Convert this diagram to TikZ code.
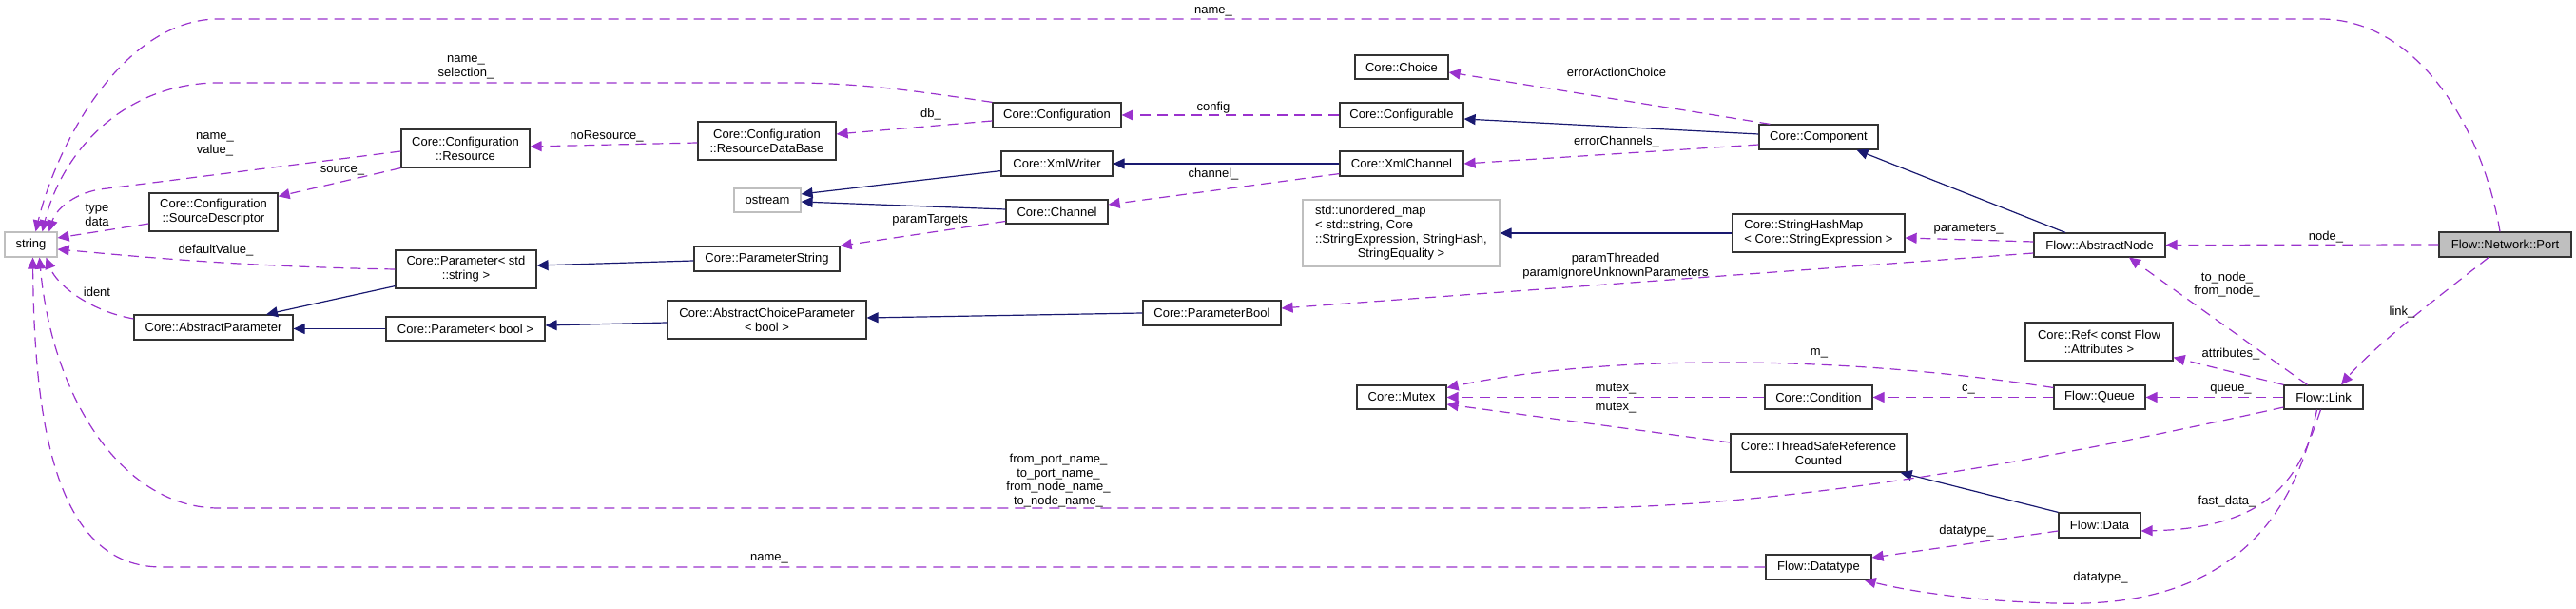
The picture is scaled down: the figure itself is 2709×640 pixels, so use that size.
\documentclass[tikz,border=0pt]{standalone}
\usepackage{fontspec}
\newfontfamily\dfontfam{Liberation Sans}
\newcommand{\dfnt}{\dfontfam\fontsize{6.5pt}{7.4pt}\selectfont}
\usetikzlibrary{arrows.meta,calc}
\definecolor{purp}{HTML}{9A32CD}
\definecolor{navyb}{HTML}{191970}
\definecolor{graybd}{HTML}{BFBFBF}
\tikzset{
  cls/.style={draw=black!80, line width=0.6pt, fill=white, inner sep=0pt, align=center, font=\dfnt},
  ext/.style={cls, draw=graybd},
  bx/.style 2 args={minimum width=#1*0.5pt, minimum height=#2*0.5pt},
  inhedge/.style={draw=navyb, line width=0.6pt, -{Triangle[length=6pt,width=5.5pt]}},
  usedge/.style={draw=purp, line width=0.6pt, dash pattern=on 5.5pt off 3.5pt, -{Triangle[length=6pt,width=5.5pt]}},
  elab/.style={inner sep=0pt, align=center, font=\dfnt},
}
\begin{document}
\begin{tikzpicture}[x=0.5pt, y=-0.5pt]
\useasboundingbox (0,0) rectangle (2709,640);
% nodes
\node[ext, bx={55}{26}] (string) at (32.5,257) {string};
\node[cls, bx={135}{40}] (cres) at (489.5,156) {Core::Configuration\\::Resource};
\node[cls, bx={135}{40}] (csd) at (224.5,223) {Core::Configuration\\::SourceDescriptor};
\node[cls, bx={148}{40}] (pstd) at (490,283) {Core::Parameter< std\\::string >};
\node[cls, bx={167}{26}] (aparam) at (224.5,344) {Core::AbstractParameter};
\node[cls, bx={167}{25}] (pbool) at (489.5,345.5) {Core::Parameter< bool >};
\node[cls, bx={135}{26}] (conf) at (1111.5,121) {Core::Configuration};
\node[cls, bx={145}{40}] (rdb) at (806.5,148) {Core::Configuration\\::ResourceDataBase};
\node[cls, bx={117}{26}] (xmlw) at (1111.5,172) {Core::XmlWriter};
\node[ext, bx={70}{25}] (ostream) at (807,210.5) {ostream};
\node[cls, bx={107}{25}] (chan) at (1111.5,222.5) {Core::Channel};
\node[cls, bx={153}{26}] (pstr) at (806.5,272) {Core::ParameterString};
\node[cls, bx={209}{40}] (acp) at (806.5,336) {Core::AbstractChoiceParameter\\< bool >};
\node[cls, bx={145}{26}] (pboolc) at (1274.5,329) {Core::ParameterBool};
\node[cls, bx={98}{25}] (choice) at (1474,70.5) {Core::Choice};
\node[cls, bx={130}{26}] (cfgable) at (1474,121) {Core::Configurable};
\node[cls, bx={130}{26}] (xmlch) at (1474,172) {Core::XmlChannel};
\node[cls, bx={125}{26}] (comp) at (1912.5,144) {Core::Component};
\node[ext, bx={207}{70}] (umap) at (1473.5,245) {\begin{tabular}{@{}l@{}}std::unordered\_map\\< std::string, Core\\::StringExpression, StringHash,\\\multicolumn{1}{@{}c@{}}{StringEquality >}\end{tabular}};
\node[cls, bx={181}{40}, align=left] (shm) at (1912.5,245) {Core::StringHashMap\\< Core::StringExpression >};
\node[cls, bx={94}{25}] (mutex) at (1474,417.5) {Core::Mutex};
\node[cls, bx={113}{25}] (cond) at (1912.5,417.5) {Core::Condition};
\node[cls, bx={185}{40}] (tsrc) at (1912.5,476) {Core::ThreadSafeReference\\Counted};
\node[cls, bx={111}{26}] (dtype) at (1912.5,596) {Flow::Datatype};
\node[cls, bx={138}{25}] (anode) at (2208,257.5) {Flow::AbstractNode};
\node[cls, bx={139}{26}, fill=graybd] (port) at (2634.5,257) {Flow::Network::Port};
\node[cls, bx={155}{40}] (ref) at (2207.5,359) {Core::Ref< const Flow\\::Attributes >};
\node[cls, bx={96}{25}] (queue) at (2208,417.5) {Flow::Queue};
\node[cls, bx={83}{25}] (link) at (2443.5,417.5) {Flow::Link};
\node[cls, bx={86}{26}] (data) at (2208,552) {Flow::Data};
% inheritance edges
\draw[inhedge] ($(pstd.south west)+(0,-3)$) -- ($(aparam.north)+(55.5,0)$);
\draw[inhedge] (pbool.west) -- (pbool.west -| aparam.east);
\draw[inhedge] ($(acp.west)+(0,3)$) -- ($(pbool.east)+(0,-3.5)$);
\draw[inhedge] ($(pstr.west)+(0,2)$) -- ($(pstd.east)+(0,-4)$);
\draw[inhedge] (pboolc.west) -- ($(acp.east)+(0,-2)$);
\draw[inhedge] ($(xmlw.south west)+(0,-6)$) -- ($(ostream.east)+(0,-6.5)$);
\draw[inhedge] ($(chan.west)+(0,-2.5)$) -- ($(ostream.east)+(0,1.5)$);
\draw[inhedge] (xmlch.west) -- (xmlw.east);
\draw[inhedge] ($(comp.west)+(0,-3)$) -- ($(cfgable.east)+(0,4)$);
\draw[inhedge] (shm.west) -- (umap.east);
\draw[inhedge] ($(anode.north)+(-36,0)$) -- ($(comp.south)+(40,0)$);
\draw[inhedge] (data.north west) -- ($(tsrc.south east)+(-7,0)$);
% usage edges
\draw[usedge] ($(port.north)+(-5.5,0)$) .. controls (2610,130) and (2540,20) .. (2440,20) -- (230,20) .. controls (130,20) and (60,150) .. ($(string.north)+(5,0)$);
\draw[usedge] (conf.north west) .. controls (960,95) and (900,87) .. (832,87) -- (230,87) .. controls (130,87) and (65,160) .. ($(string.north)+(12,0)$);
\draw[usedge] ($(cres.west)+(0,3)$) -- (105,199) .. controls (75,204) and (58,222) .. ($(string.north)+(19,0)$);
\draw[usedge] ($(csd.west)+(0,12)$) -- ($(string.east)+(0,-7)$);
\draw[usedge] (pstd.west) .. controls (250,280) and (150,270) .. ($(string.east)+(0,5)$);
\draw[usedge] ($(aparam.west)+(0,-9)$) .. controls (95,327) and (60,300) .. ($(string.south)+(16,0)$);
\draw[usedge] ($(link.west)+(0,10.5)$) .. controls (2100,495) and (1850,534) .. (1650,534) -- (230,534) .. controls (130,534) and (55,420) .. ($(string.south)+(9,0)$);
\draw[usedge] (dtype.west) -- (170,596) .. controls (60,596) and (36,450) .. ($(string.south)+(2,0)$);
\draw[usedge] ($(rdb.west)+(0,2)$) -- ($(cres.east)+(0,-2)$);
\draw[usedge] (cres.south west) -- ($(csd.north east)+(0,4)$);
\draw[usedge] ($(conf.west)+(0,6)$) -- ($(rdb.east)+(0,-7)$);
\draw[usedge] (cfgable.west) -- (conf.east);
\draw[usedge] ($(xmlch.south west)+(0,-3)$) -- ($(chan.east)+(0,-7.5)$);
\draw[usedge] ($(chan.west)+(0,10)$) -- (pstr.north east);
\draw[usedge] ($(comp.north west)+(12,0)$) -- ($(choice.east)+(0,5.5)$);
\draw[usedge] ($(comp.west)+(0,8)$) -- (xmlch.east);
\draw[usedge] ($(anode.west)+(0,-3.5)$) -- ($(shm.east)+(0,5)$);
\draw[usedge] ($(anode.west)+(0,8.5)$) -- ($(pboolc.east)+(0,-5)$);
\draw[usedge] (port.west) -- (anode.east);
\draw[usedge] ($(link.north)+(-17,0)$) -- ($(anode.south)+(31,0)$);
\draw[usedge] ($(port.south)+(-17.5,0)$) .. controls (2580,300) and (2500,360) .. ($(link.north)+(18.5,0)$);
\draw[usedge] (link.north west) -- ($(ref.south east)+(0,-4)$);
\draw[usedge] (link.west) -- (queue.east);
\draw[usedge] ($(queue.west)+(0,-10)$) .. controls (1950,375) and (1700,370) .. ($(mutex.east)+(0,-10)$);
\draw[usedge] (queue.west) -- (cond.east);
\draw[usedge] (cond.west) -- (mutex.east);
\draw[usedge] ($(tsrc.west)+(0,-11)$) -- ($(mutex.east)+(0,7.5)$);
\draw[usedge] ($(link.south)+(-3,0)$) .. controls (2420,490) and (2400,555) .. ($(data.east)+(0,6)$);
\draw[usedge] ($(link.south)+(-7,0)$) .. controls (2410,560) and (2330,640) .. (2160,634) .. controls (2080,632) and (2010,622) .. ($(dtype.south east)+(-8,0)$);
\draw[usedge] ($(data.west)+(0,6)$) -- ($(dtype.east)+(0,-10)$);
% labels
\node[elab] (l1) at (1276,12) {name\_};
\node[elab] (l2) at (490,71) {name\_\\selection\_};
\node[elab] (l3) at (226,152) {name\_\\value\_};
\node[elab] (l4) at (102,226) {type\\data};
\node[elab] (l5) at (227,263) {defaultValue\_};
\node[elab] (l6) at (102,307) {ident};
\node[elab] (l7) at (1113,505) {from\_port\_name\_\\to\_port\_name\_\\from\_node\_name\_\\to\_node\_name\_};
\node[elab] (l8) at (809,587) {name\_};
\node[elab] (l9) at (638,143) {noResource\_};
\node[elab] (l10) at (360,179) {source\_};
\node[elab] (l11) at (979,120) {db\_};
\node[elab] (l12) at (1276,113) {config};
\node[elab] (l13) at (1276,183) {channel\_};
\node[elab] (l14) at (978,231) {paramTargets};
\node[elab] (l15) at (1700,76) {errorActionChoice};
\node[elab] (l16) at (1700,149) {errorChannels\_};
\node[elab] (l17) at (2070,241) {parameters\_};
\node[elab] (l18) at (1699,280) {paramThreaded\\paramIgnoreUnknownParameters};
\node[elab] (l19) at (2446,249) {node\_};
\node[elab] (l20) at (2342,299) {to\_node\_\\from\_node\_};
\node[elab] (l21) at (2526,328) {link\_};
\node[elab] (l22) at (2346,372) {attributes\_};
\node[elab] (l23) at (2346,409) {queue\_};
\node[elab] (l24) at (1913,371) {m\_};
\node[elab] (l25) at (2070,409) {c\_};
\node[elab] (l26) at (1699,409) {mutex\_};
\node[elab] (l27) at (1699,429) {mutex\_};
\node[elab] (l28) at (2342,527) {fast\_data\_};
\node[elab] (l29) at (2209,607) {datatype\_};
\node[elab] (l30) at (2068,558) {datatype\_};
\end{tikzpicture}
\end{document}
